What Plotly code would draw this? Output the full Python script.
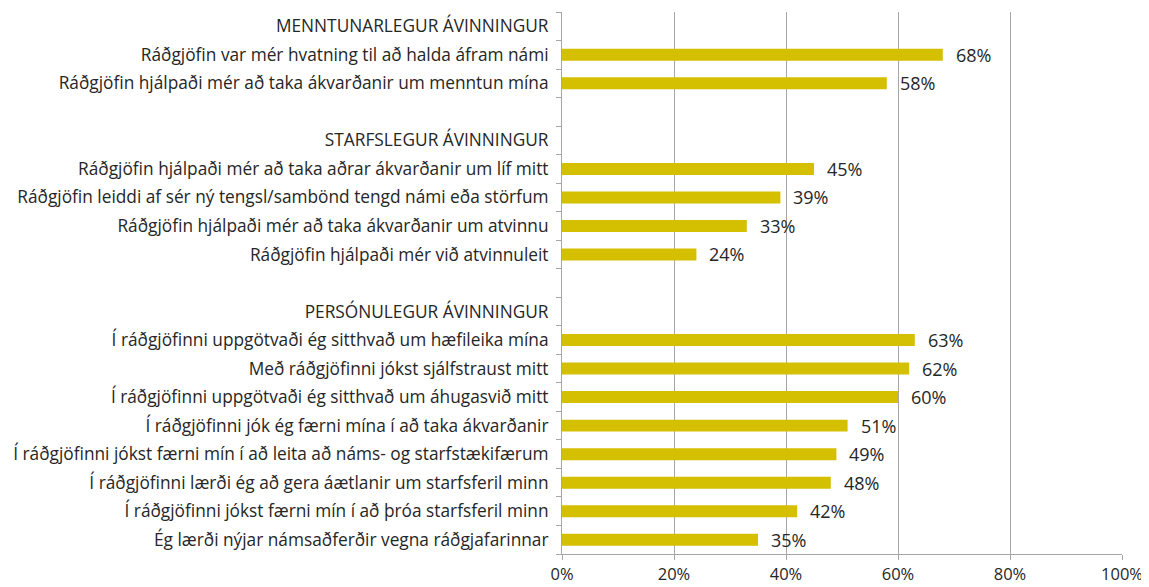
import plotly.graph_objects as go

categories = [
    "MENNTUNARLEGUR ÁVINNINGUR",
    "Ráðgjöfin var mér hvatning til að halda áfram námi",
    "Ráðgjöfin hjálpaði mér að taka ákvarðanir um menntun mína",
    " ",
    "STARFSLEGUR ÁVINNINGUR",
    "Ráðgjöfin hjálpaði mér að taka aðrar ákvarðanir um líf mitt",
    "Ráðgjöfin leiddi af sér ný tengsl/sambönd tengd námi eða störfum",
    "Ráðgjöfin hjálpaði mér að taka ákvarðanir um atvinnu",
    "Ráðgjöfin hjálpaði mér við atvinnuleit",
    "  ",
    "PERSÓNULEGUR ÁVINNINGUR",
    "Í ráðgjöfinni uppgötvaði ég sitthvað um hæfileika mína",
    "Með ráðgjöfinni jókst sjálfstraust mitt",
    "Í ráðgjöfinni uppgötvaði ég sitthvað um áhugasvið mitt",
    "Í ráðgjöfinni jók ég færni mína í að taka ákvarðanir",
    "Í ráðgjöfinni jókst færni mín í að leita að náms- og starfstækifærum",
    "Í ráðgjöfinni lærði ég að gera áætlanir um starfsferil minn",
    "Í ráðgjöfinni jókst færni mín í að þróa starfsferil minn",
    "Ég lærði nýjar námsaðferðir vegna ráðgjafarinnar",
]
values = [None, 68, 58, None, None, 45, 39, 33, 24, None, None, 63, 62, 60, 51, 49, 48, 42, 35]
x_ticks = [0, 20, 40, 60, 80, 100]
x_tick_labels = ["0%", "20%", "40%", "60%", "80%", "100%"]

FONT = "Open Sans, Noto Sans, sans-serif"
TXT = "#262626"

fig = go.Figure()
fig.add_trace(go.Bar(
    y=categories, x=values, orientation="h",
    marker=dict(color="#D4BF00", line=dict(width=0)),
    width=0.42, hoverinfo="x+y",
))

for c, v in zip(categories, values):
    if v is not None:
        fig.add_annotation(x=v, y=c, text=f"{v}%", showarrow=False,
                           xanchor="left", yanchor="middle", xshift=11,
                           font=dict(family=FONT, size=18, color=TXT))

fig.update_layout(
    width=1141, height=579,
    margin=dict(l=554, r=27, t=4, b=33),
    paper_bgcolor="white", plot_bgcolor="white",
    showlegend=False,
    font=dict(family=FONT, size=17.3, color=TXT),
    xaxis=dict(range=[0, 100], tickvals=x_ticks, ticktext=x_tick_labels,
               showgrid=True, gridcolor="#A6A6A6", gridwidth=1,
               zeroline=False, showline=True, linecolor="#A6A6A6",
               ticks="outside", ticklen=5, tickcolor="#A6A6A6",
               ticklabelstandoff=0, automargin=False,
               tickfont=dict(size=16.5, color=TXT), fixedrange=True),
    yaxis=dict(categoryorder="array", categoryarray=categories[::-1],
               showgrid=False, showline=True, linecolor="#A6A6A6",
               ticks="outside", ticklen=5, tickcolor="#A6A6A6",
               tickson="boundaries", automargin=False, ticklabelstandoff=9,
               tickfont=dict(size=17.3, color=TXT), fixedrange=True),
)

fig.write_html("out.html")
